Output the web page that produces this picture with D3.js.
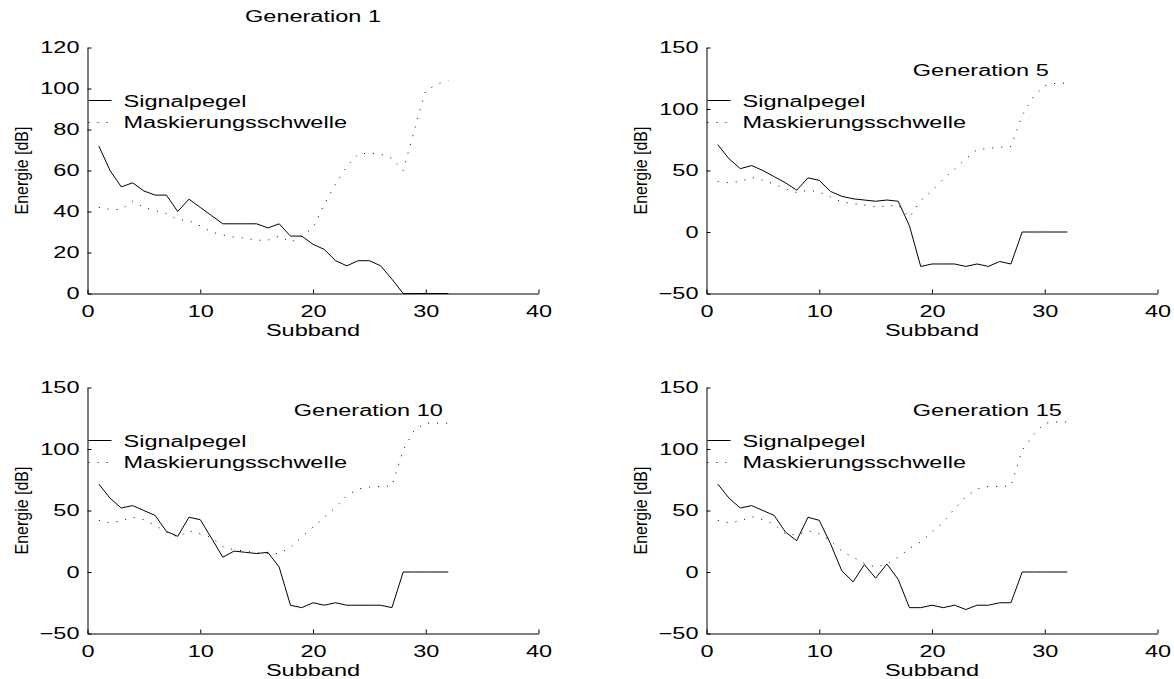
<!DOCTYPE html>
<html lang="de">
<head>
<meta charset="UTF-8">
<title>Signalpegel und Maskierungsschwelle</title>
<script src="https://d3js.org/d3.v7.min.js"></script>
<style>
  body { margin: 0; background: #fff; }
  text { font-family: "Liberation Sans", Arial, Helvetica, sans-serif; font-size: 16px; fill: #000; }
</style>
</head>
<body>
<script>

// subband index 1..32
var subbands = [1,2,3,4,5,6,7,8,9,10,11,12,13,14,15,16,17,18,19,20,21,22,23,24,25,26,27,28,29,30,31,32];

var gen1Signal  = [72,60,52,54,50,48,48,40,46,42,38,34,34,34,34,32,34,28,28,24,21.5,16,13.5,16,16,13.5,7,0,0,0,0,0];
var gen1Mask    = [42,41,41,45,42,40.5,39,36,35.5,33,30,28.5,27.5,27,26,26,28,25,28,32,43.5,53.5,62,68,68.5,68,66,60,80,99,102,104];

var gen5Signal  = [71,59.5,51.5,54,50,45,40,34,44,42,33,29,27,26,25,26,25,5,-28,-26,-26,-26,-28,-26,-28,-24,-26,0,0,0,0,0];
var gen5Mask    = [41,40,41,44.5,42,39,35,32,34,32.5,28.5,24.5,23,22,20.5,21,22,12,25.5,33.5,43,51,59.5,67,68,69,69.5,95,110,119,121,121];

var gen10Signal = [71.5,60,52,54,50,46,33,29,44.5,42.5,27.5,12,17,16,15,16,4,-27,-29,-25,-27,-25,-27,-27,-27,-27,-29,0,0,0,0,0];
var gen10Mask   = [42,40,41.5,44.5,42.5,38,32.5,28.5,33.5,31,28,20.5,18,17,15.5,15,15,20,28.5,36.5,44.5,52.5,62,67.5,69,69.5,70,99,115.5,121,121,121];

var gen15Signal = [71.5,60,52,54,50,46,32.5,25.5,44.5,42,23,1,-8,6,-5,6.5,-6,-29,-29,-27,-29,-27,-30.5,-27,-27,-25,-25,0,0,0,0,0];
var gen15Mask   = [42,40,41.5,45,42.5,39,31,30,33.5,31,25.5,17,12,7,4,6.5,12,19,24.5,32.5,40.5,51.5,61,67.5,69.5,69.5,70,99,111.5,121,122,122];

var xTicks = [0,10,20,30,40];
var yTicksGen1 = [0,20,40,60,80,100,120];
var yTicksOther = [-50,0,50,100,150];
var legendLabels = ["Signalpegel", "Maskierungsschwelle"];

var panels = [
  { name: "Generation 1",  signal: gen1Signal,  mask: gen1Mask,  yDomain: [0,120],  yTicks: yTicksGen1,  left: 87.5,  top: 47.5,  titleOnTop: true },
  { name: "Generation 5",  signal: gen5Signal,  mask: gen5Mask,  yDomain: [-50,150], yTicks: yTicksOther, left: 706.5, top: 47.5,  titleOnTop: false },
  { name: "Generation 10", signal: gen10Signal, mask: gen10Mask, yDomain: [-50,150], yTicks: yTicksOther, left: 87.5,  top: 387.5, titleOnTop: false },
  { name: "Generation 15", signal: gen15Signal, mask: gen15Mask, yDomain: [-50,150], yTicks: yTicksOther, left: 706.5, top: 387.5, titleOnTop: false }
];

var W = 451, H = 246;
var sx = 1.47; // text in the original is drawn wide

var svg = d3.select("body")
  .append("svg")
  .attr("width", 1174)
  .attr("height", 679);

// put a text at (x,y) and stretch it horizontally
function wideText(g, x, y, str, anchor) {
  return g.append("text")
    .attr("transform", "translate(" + x + "," + y + ") scale(" + sx + ",1)")
    .attr("text-anchor", anchor || "start")
    .text(str);
}

function stretchAxisText(axisG) {
  axisG.selectAll("text").each(function () {
    var t = d3.select(this);
    var x = +t.attr("x") || 0;
    var y = +t.attr("y") || 0;
    t.attr("x", 0).attr("y", 0)
      .attr("transform", "translate(" + x + "," + y + ") scale(" + sx + ",1)");
  });
}

panels.forEach(function (p) {
  var g = svg.append("g").attr("transform", "translate(" + p.left + "," + p.top + ")");

  var x = d3.scaleLinear().domain([0, 40]).range([0, W]);
  var y = d3.scaleLinear().domain(p.yDomain).range([H, 0]);

  var xAxis = g.append("g")
    .attr("transform", "translate(0," + H + ")")
    .call(d3.axisBottom(x).tickValues(xTicks).tickSize(-4).tickSizeOuter(0).tickPadding(12));
  var yAxis = g.append("g")
    .call(d3.axisLeft(y).tickValues(p.yTicks).tickSize(-4).tickSizeOuter(0).tickPadding(8));

  [xAxis, yAxis].forEach(function (a) {
    a.selectAll("path, line").attr("stroke", "#000").attr("stroke-width", 1);
    a.selectAll("text").attr("font-size", 16).attr("font-family", null).attr("fill", "#000");
    stretchAxisText(a);
  });

  var line = d3.line()
    .x(function (d, i) { return x(subbands[i]); })
    .y(function (d) { return y(d); });

  g.append("path")
    .datum(p.mask)
    .attr("d", line)
    .attr("fill", "none")
    .attr("stroke", "#000")
    .attr("stroke-width", 1)
    .attr("stroke-dasharray", "1,8");

  g.append("path")
    .datum(p.signal)
    .attr("d", line)
    .attr("fill", "none")
    .attr("stroke", "#000")
    .attr("stroke-width", 1);

  // legend
  g.append("line")
    .attr("x1", 1).attr("x2", 24).attr("y1", 53).attr("y2", 53)
    .attr("stroke", "#000").attr("stroke-width", 1);
  g.append("line")
    .attr("x1", 1).attr("x2", 24).attr("y1", 75).attr("y2", 75)
    .attr("stroke", "#000").attr("stroke-width", 1).attr("stroke-dasharray", "1,8");
  wideText(g, 36, 59.5, legendLabels[0]);
  wideText(g, 36, 80.5, legendLabels[1]);

  // labels
  wideText(g, W / 2, H + 42, "Subband", "middle");
  g.append("text")
    .attr("transform", "translate(-60," + (H / 2) + ") scale(1.1,1) rotate(-90)")
    .attr("text-anchor", "middle")
    .text("Energie [dB]");

  if (p.titleOnTop) {
    wideText(g, W / 2, -26, p.name, "middle");
  } else {
    wideText(g, x(18.3), y(127), p.name);
  }
});

</script>
</body>
</html>
